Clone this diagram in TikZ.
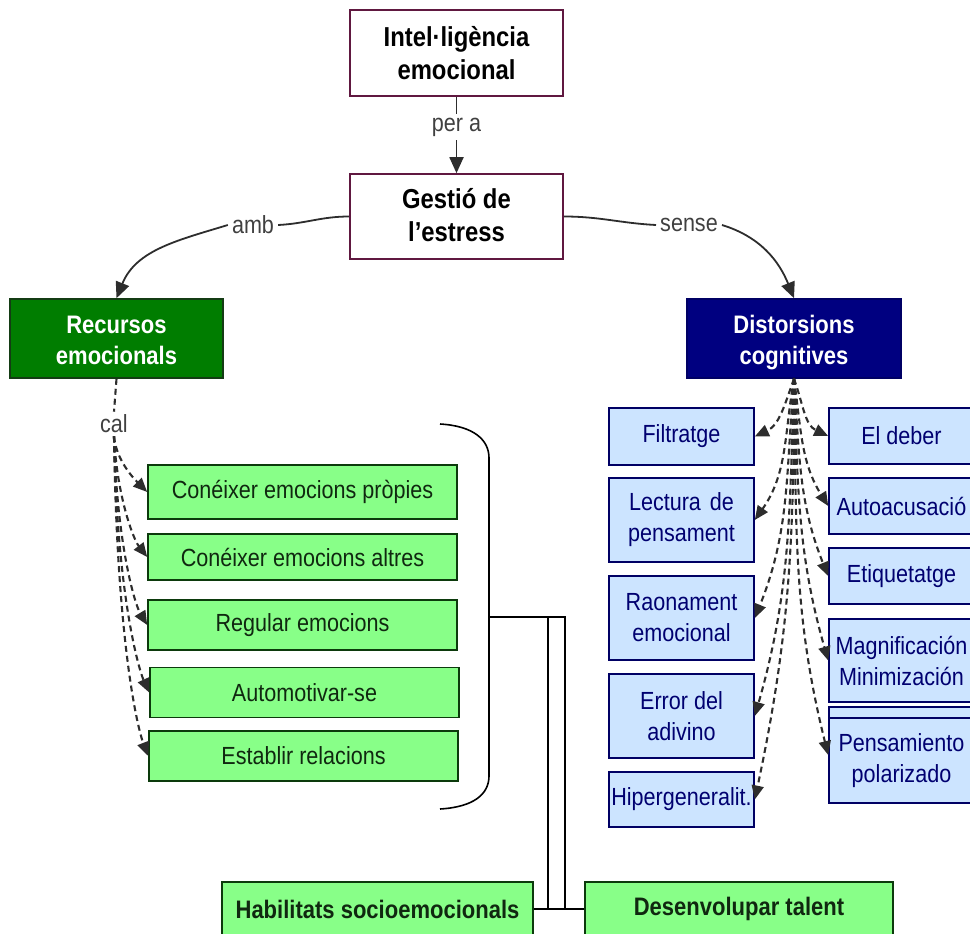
\documentclass[tikz,border=0pt]{standalone}
\usepackage{fontspec}
\setmainfont[FakeStretch=0.87]{Liberation Sans}
\usetikzlibrary{arrows.meta}

\definecolor{conceptborder}{RGB}{96,24,64}
\definecolor{darkgreenfill}{RGB}{0,125,0}
\definecolor{darkgreenline}{RGB}{20,60,20}
\definecolor{navyfill}{RGB}{0,0,128}
\definecolor{navyline}{RGB}{0,0,100}
\definecolor{lightgreen}{RGB}{136,255,136}
\definecolor{greenline}{RGB}{12,58,12}
\definecolor{greentext}{RGB}{16,40,16}
\definecolor{lightblue}{RGB}{204,228,255}
\definecolor{bluetext}{RGB}{0,0,112}
\definecolor{linkgray}{RGB}{45,45,45}
\definecolor{phrasegray}{RGB}{64,64,64}

\newcommand\fntreg{\fontsize{24.8}{31}\selectfont}
\newcommand\fntbold{\fontsize{25.3}{30.5}\selectfont\bfseries}
\newcommand\fntbig{\fontsize{27.4}{33}\selectfont\bfseries}
% two centred lines, lowered a little inside their box
\newcommand\twolines[3]{\raisebox{#1}[\height][\depth]{\begin{tabular}{@{}c@{}}#2\\#3\end{tabular}}}

\tikzset{
  box/.style={draw, line width=1.6pt, inner sep=0pt, align=center},
  concept/.style={box, draw=conceptborder, fill=white, text=black, font=\fntbig,
    minimum width=213pt},
  resource/.style={box, draw=darkgreenline, fill=darkgreenfill, text=white, font=\fntbold,
    minimum width=213pt, minimum height=79pt},
  distortion/.style={box, draw=navyline, fill=navyfill, text=white, font=\fntbold,
    minimum width=214pt, minimum height=79pt},
  skill/.style={box, draw=greenline, fill=lightgreen, text=greentext, font=\fntreg,
    minimum width=309pt},
  outcome/.style={box, draw=greenline, fill=lightgreen, text=greentext, font=\fntbold,
    minimum height=54pt},
  kind/.style={box, draw=navyline, fill=lightblue, text=bluetext, font=\fntreg,
    minimum width=145pt},
  phrase/.style={font=\fntreg, text=phrasegray, inner sep=4pt},
  link/.style={draw=linkgray, line width=1.8pt},
  arrowlink/.style={link, -{Triangle[length=16pt,width=14pt]}},
  dashlink/.style={draw=linkgray, line width=2.1pt, dash pattern=on 6pt off 4pt},
  dasharrow/.style={dashlink, -{Triangle[length=14pt,width=12pt]}},
  bracket/.style={draw=black, line width=1.6pt},
}

\begin{document}
\begin{tikzpicture}[x=1pt,y=1pt]
\useasboundingbox (0,0) rectangle (970,-934);
\clip (0,0) rectangle (970,-934);

% top concepts
\node[concept, minimum height=86pt] (ie) at (456.5,-53) {Intel·ligència\\emocional};
\node[concept, minimum height=85pt] (ge) at (456.5,-216.5) {\twolines{-1.5pt}{Gestió de}{l’estress}};

% the two branches
\node[resource] (rec) at (116.5,-338.5) {\twolines{-4.5pt}{Recursos}{emocionals}};
\node[distortion] (dis) at (794,-338.5) {\twolines{-4.5pt}{Distorsions}{cognitives}};

% linking phrases
\node[phrase] (pa) at (456.5,-127) {per a};
\node[phrase] (amb) at (253,-225) {amb};
\node[phrase] (sen) at (689,-225) {sense};
\node[phrase, inner sep=3pt] (cal) at (114,-424) {cal};

% emotional skills
\node[skill, minimum height=54pt] (g1) at (302.5,-492) {Conéixer emocions pròpies};
\node[skill, minimum height=46pt] (g2) at (302.5,-557) {Conéixer emocions altres};
\node[skill, minimum height=50pt] (g3) at (302.5,-625) {Regular emocions};
\node[skill, minimum height=50pt] (g4) at (304.5,-692.5) {Automotivar-se};
\node[skill, minimum height=50pt] (g5) at (303.5,-756) {Establir relacions};

% outcomes at the foot
\node[outcome, minimum width=311pt] (hab) at (377.5,-909) {Habilitats socioemocionals};
\node[outcome, minimum width=308pt] (tal) at (739,-909) {Desenvolupar talent};

% cognitive distortions, left column
\node[kind, minimum height=57pt] (fil) at (681.5,-436.5) {Filtratge};
\node[kind, minimum height=84pt] (lec) at (681.5,-520) {Lectura\hspace{9pt}de\\pensament};
\node[kind, minimum height=84pt] (rao) at (681.5,-618) {Raonament\\emocional};
\node[kind, minimum height=84pt] (err) at (681.5,-716) {Error del\\adivino};
\node[kind, minimum height=55pt] (hip) at (681.5,-799.5) {Hipergeneralit.};

% cognitive distortions, right column
\node[kind, minimum height=56pt] (deb) at (901.5,-436) {El deber};
\node[kind, minimum height=56pt] (aut) at (901.5,-506) {Autoacusació};
\node[kind, minimum height=56pt] (eti) at (901.5,-576) {Etiquetatge};
\node[kind, minimum height=83pt] (mag) at (901.5,-660.5) {Magnificación\\Minimización};
\node[kind, minimum height=96pt] (ext) at (901.5,-755) {};
\node[kind, minimum height=85pt] (pen) at (901.5,-760.5) {Pensamiento\\polarizado};

% main links
\draw[link] (ie) -- (pa);
\draw[arrowlink] (pa) -- (ge);
\draw[link] (ge.west) to[out=180,in=3] (amb.east);
\draw[arrowlink] (amb.west) to[out=197,in=68] (rec.north);
\draw[link] (ge.east) to[out=0,in=177] (sen.west);
\draw[arrowlink] (sen.east) to[out=-17,in=112] (dis.north);

% resources fan
\draw[dashlink] (rec.south) -- (cal.north);
\draw[dasharrow] (cal.south) .. controls +(2,-22) and +(-16,16) .. (g1.west);
\draw[dasharrow] (cal.south) .. controls +(3,-60) and +(-14,18) .. (g2.west);
\draw[dasharrow] (cal.south) .. controls +(3,-110) and +(-12,20) .. (g3.west);
\draw[dasharrow] (cal.south) .. controls +(3,-160) and +(-10,22) .. (g4.west);
\draw[dasharrow] (cal.south) .. controls +(3,-210) and +(-10,26) .. (g5.west);

% distortions fan
\draw[dasharrow] (dis.south) to[out=-110,in=25] (fil.east);
\draw[dasharrow] (dis.south) to[out=-100,in=55] (lec.east);
\draw[dasharrow] (dis.south) to[out=-95,in=68] (rao.east);
\draw[dasharrow] (dis.south) to[out=-92,in=74] (err.east);
\draw[dasharrow] (dis.south) to[out=-90,in=78] (hip.east);
\draw[dasharrow] (dis.south) to[out=-70,in=155] (deb.west);
\draw[dasharrow] (dis.south) to[out=-82,in=122] (aut.west);
\draw[dasharrow] (dis.south) to[out=-86,in=112] (eti.west);
\draw[dasharrow] (dis.south) to[out=-88,in=106] (mag.west);
\draw[dasharrow] (dis.south) to[out=-89,in=104] (ext.west);

% bracket grouping the skills, joined to the outcomes
\coordinate (bt) at (440,-424);
\coordinate (bb) at (440,-809);
\coordinate (bm) at (489,-617);
\coordinate (jl) at (548,-617);
\coordinate (jr) at (565,-617);
\draw[bracket] (bt) .. controls (474,-426) and (489,-440) .. (489,-458)
  -- (489,-776) .. controls (489,-794) and (474,-807) .. (bb);
\draw[bracket] (bm) -- (jr) -- (jr |- tal.west);
\draw[bracket] (jl) -- (jl |- hab.east);
\draw[bracket] (hab.east) -- (tal.west);
\end{tikzpicture}
\end{document}
